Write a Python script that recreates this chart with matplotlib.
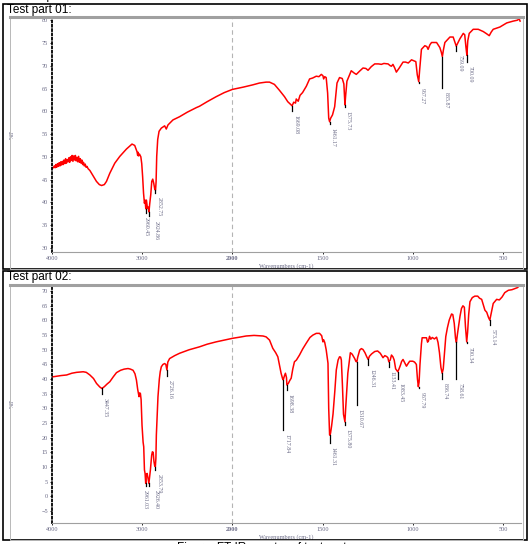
import numpy as np
import matplotlib
matplotlib.use("Agg")
import matplotlib.pyplot as plt
from matplotlib.patches import Rectangle
from matplotlib.lines import Line2D

# ---- spectrum 1 (wavenumber, %T)
wn1 = [4000, 3990, 3985, 3975, 3966, 3957, 3948, 3939, 3930, 3921, 3912, 3903, 3894,
       3885, 3876, 3867, 3858, 3849, 3840, 3831, 3822, 3813, 3804, 3795, 3786, 3777,
       3768, 3759, 3750, 3741, 3732, 3723, 3714, 3705, 3696, 3687, 3678, 3669, 3660,
       3651, 3642, 3632, 3622, 3612, 3600, 3580, 3544, 3507, 3475, 3450, 3420, 3396,
       3359, 3304, 3248, 3175, 3113, 3083, 3057, 3050, 3045, 3040, 3030, 3015, 3005,
       2995, 2985, 2975, 2968, 2960, 2953, 2942, 2935, 2925, 2916, 2905, 2894, 2883,
       2872, 2860, 2852, 2846, 2839, 2828, 2813, 2788, 2751, 2733, 2714, 2659, 2586,
       2500, 2400, 2365, 2280, 2180, 2090, 2000, 1940, 1887, 1850, 1813, 1794, 1767,
       1739, 1711, 1693, 1680, 1669, 1660, 1650, 1646, 1635, 1625, 1611, 1590, 1572,
       1555, 1535, 1520, 1507, 1498, 1494, 1488, 1480, 1472, 1466, 1461, 1455, 1445,
       1433, 1420, 1406, 1391, 1382, 1376, 1372, 1365, 1341, 1325, 1313, 1295, 1276,
       1260, 1248, 1230, 1211, 1190, 1174, 1160, 1137, 1125, 1118, 1110, 1100, 1091,
       1075, 1054, 1040, 1025, 1007, 995, 983, 975, 967, 962, 952, 933, 922, 915, 905,
       896, 868, 850, 842, 836, 830, 822, 794, 776, 765, 759, 750, 739, 720, 712, 705,
       700, 695, 687, 665, 637, 609, 590, 576, 565, 554, 517, 479, 443, 420, 410, 405]
t1 = [47.5, 47.6, 47.6, 48.0, 47.6, 48.3, 47.7, 48.5, 47.9, 48.7, 48.0, 48.9, 48.2,
      49.0, 48.3, 49.3, 48.5, 49.6, 48.6, 49.4, 48.9, 49.8, 48.8, 50.0, 49.2, 50.3,
      49.0, 50.2, 49.3, 50.3, 49.1, 49.9, 48.9, 50.1, 48.8, 49.6, 48.6, 49.3, 48.3,
      48.8, 48.0, 48.4, 47.7, 47.9, 47.4, 47.0, 45.8, 44.6, 43.9, 43.7, 43.9, 44.6,
      46.4, 48.6, 50.1, 51.7, 52.8, 52.5, 51.1, 50.3, 51.0, 50.2, 50.6, 50.0, 48.5,
      45.6, 42.0, 39.8, 40.5, 38.6, 40.5, 38.7, 39.0, 37.9, 39.8, 41.7, 44.6, 45.1,
      44.2, 42.8, 42.7, 44.5, 50.1, 53.8, 55.6, 56.3, 56.8, 56.1, 57.0, 58.1, 58.8,
      59.8, 60.8, 61.1, 62.1, 63.2, 64.1, 64.8, 65.3, 65.8, 66.2, 66.4, 66.4, 65.9,
      64.6, 63.2, 62.1, 61.6, 61.2, 62.0, 61.8, 62.7, 62.2, 63.5, 64.1, 65.5, 67.1,
      67.3, 67.7, 67.6, 68.1, 67.8, 67.1, 67.6, 67.4, 64.0, 58.5, 57.7, 58.5, 59.2,
      61.0, 66.2, 67.4, 67.2, 66.0, 61.4, 63.5, 66.6, 68.9, 68.4, 68.1, 68.8, 69.5,
      69.4, 69.0, 69.8, 70.4, 70.4, 70.3, 70.5, 70.4, 70.0, 69.9, 70.3, 69.5, 68.6,
      69.5, 70.8, 70.8, 70.6, 71.3, 71.1, 70.9, 68.0, 66.5, 69.0, 73.6, 74.4, 74.2,
      73.6, 74.6, 75.1, 75.1, 74.0, 73.0, 72.0, 73.5, 75.1, 76.3, 76.3, 75.0, 74.3,
      75.0, 75.9, 77.1, 76.8, 74.0, 72.3, 75.5, 77.1, 78.0, 78.0, 77.5, 77.0, 76.6,
      77.4, 78.0, 78.5, 79.4, 79.8, 80.0, 80.3, 79.8]

# ---- spectrum 2
wn2 = [4000, 3985, 3900, 3838, 3780, 3727, 3654, 3620, 3580, 3540, 3506, 3470, 3447,
       3420, 3390, 3359, 3320, 3285, 3240, 3200, 3157, 3130, 3101, 3080, 3064, 3050,
       3035, 3028, 3020, 3012, 3002, 2990, 2983, 2975, 2968, 2961, 2955, 2945, 2935,
       2926, 2918, 2909, 2895, 2887, 2878, 2870, 2862, 2854, 2848, 2843, 2835, 2825,
       2810, 2800, 2788, 2770, 2751, 2738, 2726, 2716, 2696, 2640, 2586, 2480, 2365,
       2280, 2180, 2090, 2000, 1960, 1924, 1880, 1850, 1830, 1813, 1794, 1776, 1760,
       1748, 1738, 1730, 1722, 1718, 1712, 1706, 1700, 1698, 1690, 1682, 1674, 1665,
       1656, 1645, 1628, 1610, 1591, 1570, 1554, 1535, 1517, 1505, 1498, 1494, 1488,
       1480, 1470, 1466, 1461, 1456, 1450, 1442, 1432, 1424, 1414, 1406, 1400, 1396,
       1390, 1384, 1376, 1372, 1366, 1360, 1346, 1336, 1322, 1315, 1310, 1305, 1294,
       1285, 1276, 1265, 1255, 1247, 1240, 1228, 1211, 1195, 1180, 1165, 1155, 1145,
       1138, 1133, 1125, 1118, 1110, 1103, 1095, 1083, 1076, 1068, 1062, 1054, 1045,
       1035, 1025, 1017, 1000, 990, 980, 974, 969, 965, 960, 952, 948, 935, 924, 918,
       913, 907, 900, 892, 880, 868, 860, 852, 844, 837, 831, 824, 817, 808, 798, 785,
       778, 770, 763, 758, 752, 745, 738, 730, 722, 714, 708, 701, 696, 690, 683, 670,
       656, 640, 630, 618, 608, 600, 590, 580, 573, 565, 554, 535, 520, 505, 490, 470,
       450, 433, 420, 406]
t2 = [40.8, 40.8, 41.2, 41.4, 42.0, 42.3, 42.5, 42.3, 41.4, 40.2, 38.5, 37.3, 36.8,
      37.4, 38.3, 39.1, 40.8, 42.2, 43.0, 43.4, 43.6, 43.4, 43.0, 41.8, 39.7, 36.5,
      34.0, 35.3, 35.1, 33.0, 24.3, 18.5, 16.9, 9.0, 7.8, 4.4, 7.5, 7.8, 6.0,
      4.4, 6.5, 9.0, 14.0, 15.2, 15.0, 12.0, 10.5, 10.1, 13.0, 20.9, 27.0, 34.0,
      40.0, 42.5, 44.2, 45.0, 45.3, 45.0, 43.1, 45.8, 47.0, 48.0, 48.8, 50.0, 51.0,
      51.9, 52.7, 53.3, 53.9, 54.3, 54.7, 54.9, 54.8, 54.7, 54.4, 53.3, 50.5, 49.0,
      47.6, 44.5, 42.0, 40.2, 39.7, 41.0, 42.0, 40.5, 38.0, 38.5, 39.5, 40.3, 43.5,
      45.9, 46.5, 48.2, 50.3, 52.2, 54.2, 55.0, 55.6, 55.6, 54.8, 52.7, 53.4, 52.5,
      50.0, 45.4, 30.0, 20.9, 21.5, 24.0, 28.1, 36.0, 43.1, 46.5, 47.6, 47.5, 46.5,
      38.0, 28.0, 25.4, 30.0, 36.0, 42.0, 49.0, 48.5, 47.0, 46.0, 45.9, 47.5, 49.9,
      50.4, 50.1, 49.0, 47.6, 46.7, 47.8, 48.6, 49.4, 49.6, 48.8, 47.3, 48.0, 47.7,
      47.3, 45.9, 46.5, 48.2, 47.6, 46.5, 43.5, 42.5, 43.5, 44.8, 46.0, 46.7, 45.6,
      44.4, 45.4, 46.1, 46.1, 45.8, 45.0, 40.0, 37.4, 39.0, 45.0, 52.0, 54.1, 54.1,
      54.1, 52.6, 53.0, 54.6, 53.6, 54.2, 53.7, 54.3, 52.5, 49.0, 44.0, 42.0, 43.5,
      49.0, 54.5, 57.5, 60.1, 62.2, 62.0, 59.0, 53.9, 52.5, 55.5, 58.5, 61.5, 64.1,
      65.0, 64.5, 58.0, 52.7, 56.0, 62.0, 66.4, 67.8, 68.3, 68.3, 67.6, 67.2, 65.2,
      63.5, 62.8, 61.0, 60.1, 62.5, 65.8, 67.2, 67.0, 68.0, 69.5, 70.3, 70.5, 70.9,
      71.2, 72.0]

# ---- peak picks: position, curve minimum, end of marker
pk1_wn = [2960.45, 2924.86, 2852.75, 1669.08, 1461.17, 1375.73, 967.27, 835.87, 759.09, 700.09]
pk1_top = [38.6, 37.9, 42.7, 61.2, 57.7, 61.4, 66.5, 72.0, 74.3, 72.3]
pk1_end = [37.7, 36.9, 42.0, 60.0, 57.2, 61.0, 66.1, 65.2, 73.3, 70.9]

pk2_wn = [3447.35, 2961.03, 2926.40, 2853.79, 2726.16, 1717.84, 1698.38, 1461.31, 1375.80,
          1310.67, 1246.31, 1133.41, 1083.45, 967.79, 836.74, 758.61, 700.34, 573.14]
pk2_top = [36.8, 4.4, 4.4, 10.1, 43.1, 39.7, 38.0, 20.9, 25.4,
           45.9, 46.7, 45.9, 42.5, 37.4, 42.0, 52.5, 52.7, 60.1]
pk2_end = [34.9, 3.5, 3.5, 9.0, 41.0, 22.6, 36.2, 18.1, 24.5,
           31.1, 44.8, 44.2, 40.2, 37.0, 40.2, 40.2, 52.2, 58.4]

xticks = [4000, 3000, 2000, 1500, 1000, 500]

W, H = 530, 544
TXT = '#6a6a86'
SERIF = ['Liberation Serif', 'DejaVu Serif']
# the software nudges crowded labels sideways (points)
NUDGE = {2960.45: 0.0, 2924.86: 5.0, 2961.03: 0.0, 2926.40: 5.0}


def fx(px):
    return px / W


def fy(py):
    return 1 - py / H


# below 2000 cm-1 the instrument uses double the scale
def fwd(x):
    x = np.asarray(x, dtype=float)
    return np.where(x <= 2000, x, 2000 + (x - 2000) / 2.0)


def inv(y):
    y = np.asarray(y, dtype=float)
    return np.where(y <= 2000, y, 2000 + (y - 2000) * 2.0)


fig = plt.figure(figsize=(W / 100, H / 100), dpi=100)


def frame(top, bottom, title, inner_top):
    fig.add_artist(Rectangle((fx(3), fy(bottom)), fx(527) - fx(3), fy(top) - fy(bottom),
                             fill=False, ec='black', lw=1.2, transform=fig.transFigure))
    fig.add_artist(Rectangle((fx(10), fy(bottom)), fx(523) - fx(10), fy(inner_top) - fy(bottom),
                             fill=False, ec='#b8b8b8', lw=0.7, transform=fig.transFigure))
    fig.add_artist(Line2D([fx(10), fx(523)], [fy(inner_top), fy(inner_top)], color='#a0a0a0',
                          lw=2.2, transform=fig.transFigure))
    fig.text(fx(7), fy(top + 6), title, fontsize=8.5, family='Liberation Sans', va='center')


def panel(rect, wn, t, ylim, yticks, pk_wn, pk_top, pk_end):
    ax = fig.add_axes(rect)
    ax.set_xscale('function', functions=(fwd, inv))
    ax.set_xlim(4000, 400)
    ax.set_ylim(*ylim)
    ax.axvline(2000, color='#b4b4b4', ls=(0, (4, 3)), lw=0.8)
    ax.plot(wn, t, color='#ff0000', lw=1.1)
    for w, a, b in zip(pk_wn, pk_top, pk_end):
        ax.plot([w, w], [a, b], color='black', lw=0.9)
        ax.annotate('%.2f' % w, (w, b), xytext=(NUDGE.get(w, 2.5), -3), textcoords='offset points',
                    rotation=270, ha='center', va='top', fontsize=4.2, color=TXT, family=SERIF)
    for s in ['top', 'right']:
        ax.spines[s].set_visible(False)
    ax.spines['left'].set_linestyle((0, (1, 1.4)))
    ax.spines['left'].set_linewidth(1.3)
    ax.spines['bottom'].set_color('#a0a0a0')
    ax.set_xticks(xticks)
    ax.set_xticklabels([str(v) for v in xticks])
    ax.set_yticks(yticks)
    ax.tick_params(length=1.5, width=0.6, pad=1.5, labelsize=4.5, labelcolor=TXT)
    for lab in ax.get_xticklabels() + ax.get_yticklabels():
        lab.set_family(SERIF)
    ax.get_xticklabels()[2].set_weight('bold')
    ax.set_xlabel('Wavenumbers (cm-1)', fontsize=4.5, color=TXT, family=SERIF, labelpad=1.5)
    ax.set_ylabel('%T', fontsize=4.5, color=TXT, family=SERIF)
    ax.yaxis.set_label_coords(-0.079, 0.5)
    return ax


frame(4, 269, 'Test part 01:', 17)
frame(271, 540, 'Test part 02:', 285)

panel([fx(52), fy(252), fx(521) - fx(52), (252 - 17) / H], wn1, t1, (29.1, 80.7),
      list(range(30, 81, 5)), pk1_wn, pk1_top, pk1_end)
panel([fx(52), fy(523), fx(521) - fx(52), (523 - 285) / H], wn2, t2, (-9.1, 72.1),
      list(range(-5, 71, 5)), pk2_wn, pk2_top, pk2_end)

# captions cut off by the page edges
fig.text(fx(8), fy(2.5), 'FT-IR spectra', fontsize=8.5, family='Liberation Sans', va='bottom')
fig.text(fx(265), fy(541.5), 'Figure  FT-IR spectra of test parts', fontsize=8.5,
         family='Liberation Sans', va='top', ha='center')

fig.savefig('out.png', dpi=100)
